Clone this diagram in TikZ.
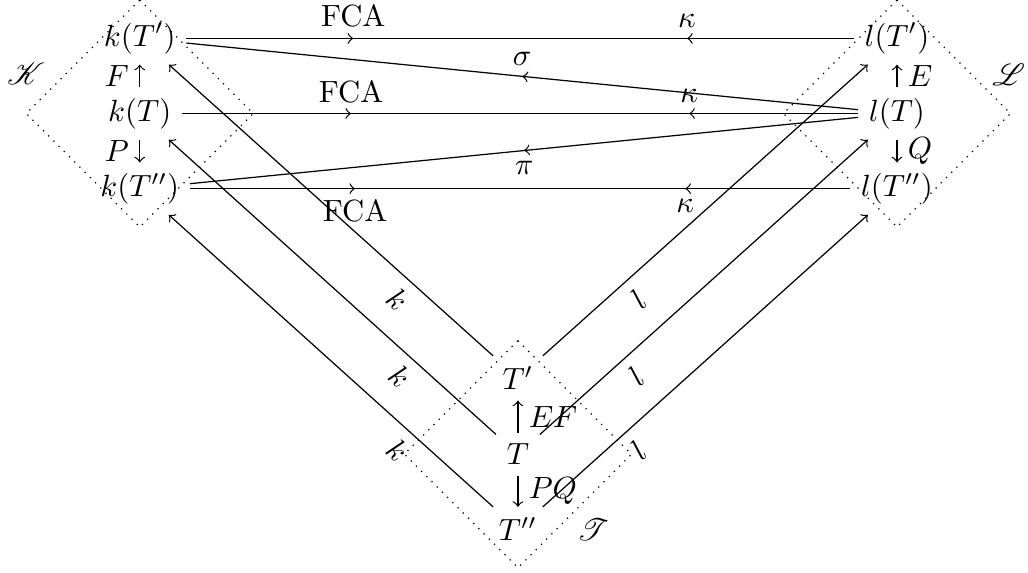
\documentclass[tikz,border=0pt]{standalone}
\usepackage{amsmath,amssymb}
\usepackage{mathrsfs}
\usetikzlibrary{decorations.markings}

\begin{document}
\begin{tikzpicture}[>=to,
	flowmark/.style={postaction={decorate}, decoration={markings, mark=at position #1 with {\arrow{>}}}},
	zone/.style={dotted}]
	\useasboundingbox (0,0) rectangle (11.77,6.55);
	% left column
	\node (kTp) at (1.60,6.11) {$k(T')$};
	\node (kT) at (1.60,5.25) {$k(T)$};
	\node (kTpp) at (1.60,4.39) {$k(T'')$};
	% right column
	\node (lTp) at (10.27,6.11) {$l(T')$};
	\node (lT) at (10.27,5.25) {$l(T)$};
	\node (lTpp) at (10.27,4.39) {$l(T'')$};
	% bottom column
	\node (Tp) at (5.93,2.22) {$T'$};
	\node (T) at (5.93,1.35) {$T$};
	\node (Tpp) at (5.93,0.49) {$T''$};
	% the three zones
	\draw[zone] (kT.center) ++(0,1.3) -- ++(1.3,-1.3) -- ++(-1.3,-1.3) -- ++(-1.3,1.3) -- cycle;
	\draw[zone] (lT.center) ++(0,1.3) -- ++(1.3,-1.3) -- ++(-1.3,-1.3) -- ++(-1.3,1.3) -- cycle;
	\draw[zone] (T.center) ++(0,1.3) -- ++(1.3,-1.3) -- ++(-1.3,-1.3) -- ++(-1.3,1.3) -- cycle;
	\node (Kname) at (0.30,5.70) {$\mathscr{K}$};
	\node (Lname) at (11.55,5.69) {$\mathscr{L}$};
	\node (Tname) at (6.79,0.49) {$\mathscr{T}$};
	% inside the zones
	\draw[->] (kT) -- node[left] {$F$} (kTp);
	\draw[->] (kT) -- node[left] {$P$} (kTpp);
	\draw[->] (lT) -- node[right] {$E$} (lTp);
	\draw[->] (lT) -- node[right] {$Q$} (lTpp);
	\draw[->] (T) -- node[right] {$EF$} (Tp);
	\draw[->] (T) -- node[right] {$PQ$} (Tpp);
	% horizontal maps
	\draw[flowmark=0.25] (kTp) -- node[near start, above] {FCA} (lTp);
	\draw[flowmark=0.25] (lTp) -- node[near start, above] {$\kappa$} (kTp);
	\draw[flowmark=0.25] (kT) -- node[near start, above] {FCA} (lT);
	\draw[flowmark=0.25] (lT) -- node[near start, above] {$\kappa$} (kT);
	\draw[flowmark=0.25] (kTpp) -- node[near start, below] {FCA} (lTpp);
	\draw[flowmark=0.25] (lTpp) -- node[near start, below] {$\kappa$} (kTpp);
	\draw[flowmark=0.5] (lT) -- node[above] {$\sigma$} (kTp);
	\draw[flowmark=0.5] (lT) -- node[below] {$\pi$} (kTpp);
	% diagonal maps
	\draw[->] (Tp) -- node[near start, below, sloped] {$k$} (kTp);
	\draw[->] (T) -- node[near start, below, sloped] {$k$} (kT);
	\draw[->] (Tpp) -- node[near start, below, sloped] {$k$} (kTpp);
	\draw[->] (Tp) -- node[near start, below, sloped] {$l$} (lTp);
	\draw[->] (T) -- node[near start, below, sloped] {$l$} (lT);
	\draw[->] (Tpp) -- node[near start, below, sloped] {$l$} (lTpp);
\end{tikzpicture}
\end{document}
